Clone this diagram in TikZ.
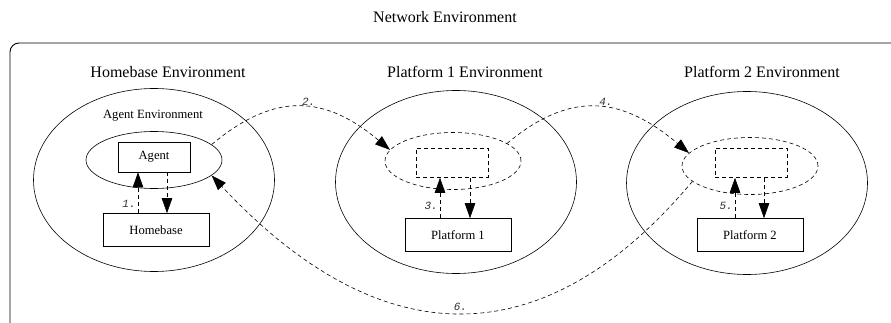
\documentclass[tikz,border=0pt]{standalone}
\usepackage{fontspec}
\setmainfont{Liberation Serif}
\setmonofont{Liberation Mono}
\usetikzlibrary{shapes.geometric,arrows.meta}

\begin{document}
\begin{tikzpicture}[x=1pt,y=-1pt,
    envarea/.style = {draw, ellipse, line width=0.6pt, minimum width=241pt, minimum height=183pt},
    agentarea/.style = {draw, ellipse, line width=0.6pt, minimum width=136pt, minimum height=57pt, inner sep=0pt},
    slotarea/.style = {agentarea, dash pattern=on 4pt off 3pt},
    hostbox/.style = {draw, rectangle, line width=0.6pt, minimum width=106pt, minimum height=33pt, font=\fontsize{12.6}{15}\selectfont},
    slotbox/.style = {draw, rectangle, line width=0.6pt, dash pattern=on 4pt off 3pt, minimum width=72pt, minimum height=29pt},
    title/.style = {font=\fontsize{16}{19}\selectfont},
    small/.style = {font=\fontsize{12.6}{15}\selectfont},
    flow/.style = {dash pattern=on 4pt off 3pt, line width=0.6pt, -{Triangle[length=15pt,width=10.5pt]}},
    numlabel/.style = {font=\ttfamily\itshape\fontsize{11}{13}\selectfont, text=black!80, inner sep=2pt}]
    \useasboundingbox (0,0) rectangle (891,323);
    \clip (0,0) rectangle (891,323);
    \draw[line width=0.9pt, rounded corners=9pt] (10,43) rectangle (910,345);
    \node[title] (net) at (445,17) {Network Environment};
    % homebase
    \node[title] (hometitle) at (168,72) {Homebase Environment};
    \node[envarea] (home) at (154,180) {};
    \node[small] (agenttitle) at (153,116) {Agent Environment};
    \node[agentarea] (homeagent) at (154,160) {};
    \node[hostbox, minimum width=72pt, minimum height=30pt] (agent) at (154,157) {Agent};
    \node[hostbox] (homebase) at (156,230) {Homebase};
    % platform 1
    \node[title] (p1title) at (465,72) {Platform 1 Environment};
    \node[envarea] (plat1env) at (456,182) {};
    \node[slotarea] (slot1) at (453,161) {};
    \node[slotbox] (box1) at (452,163) {};
    \node[hostbox] (plat1) at (458,235) {Platform 1};
    % platform 2
    \node[title] (p2title) at (762,72) {Platform 2 Environment};
    \node[envarea] (plat2env) at (747,183) {};
    \node[slotarea] (slot2) at (750,166) {};
    \node[slotbox] (box2) at (751,163) {};
    \node[hostbox] (plat2) at (750,235) {Platform 2};
    % moves
    \draw[flow] ([xshift=-18pt]homebase.north) -- node[numlabel, left, pos=0.22] {1.} ([xshift=-16pt]agent.south);
    \draw[flow] ([xshift=13pt]agent.south) -- ([xshift=11pt]homebase.north);
    \draw[flow] ([xshift=-18pt]plat1.north) -- node[numlabel, left, pos=0.3] {3.} ([xshift=-12pt]box1.south);
    \draw[flow] ([xshift=18pt]box1.south) -- ([xshift=12pt]plat1.north);
    \draw[flow] ([xshift=-15pt]plat2.north) -- node[numlabel, left, pos=0.3] {5.} ([xshift=-16pt]box2.south);
    \draw[flow] ([xshift=13pt]box2.south) -- ([xshift=14pt]plat2.north);
    \draw[flow] (homeagent.15) to[out=40, in=140, looseness=1.2] node[numlabel, above right, pos=0.5, inner sep=1pt] {2.} (slot1.170);
    \draw[flow] (slot1.18) to[out=40, in=140, looseness=1.2] node[numlabel, above right, pos=0.5, inner sep=1pt] {4.} (slot2.168);
    \draw[flow] (slot2.195) to[out=230, in=-47, looseness=1.27] node[numlabel, above, pos=0.49] {6.} (homeagent.345);
\end{tikzpicture}
\end{document}
